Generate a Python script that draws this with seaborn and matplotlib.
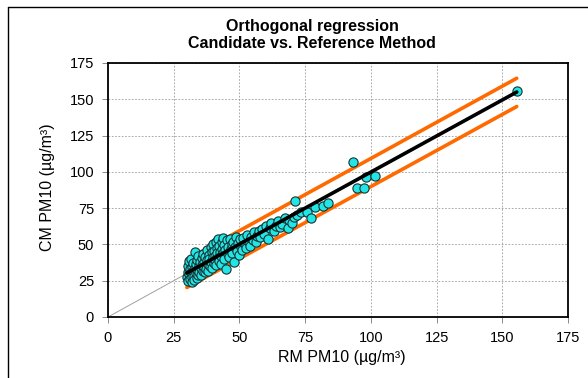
import matplotlib
matplotlib.use("Agg")
import matplotlib.pyplot as plt
import seaborn as sns
import pandas as pd
from matplotlib.lines import Line2D

# values
rm_pm10 = [30.1, 30.3, 30.4, 30.6, 30.8, 31.0, 31.1, 31.3, 31.5, 31.6, 31.8, 32.0, 32.1, 32.3,
           32.5, 32.6, 32.8, 33.0, 33.2, 33.3, 33.5, 33.7, 33.9, 34.0, 34.2, 34.4, 34.6, 34.8,
           35.0, 35.2, 35.4, 35.6, 35.8, 36.0, 36.2, 36.4, 36.6, 36.8, 37.0, 37.2, 37.4, 37.6,
           37.8, 38.0, 38.2, 38.4, 38.6, 38.8, 39.0, 39.2, 39.4, 39.6, 39.8, 40.0, 40.2, 40.4,
           40.6, 40.8, 41.0, 41.2, 41.4, 41.6, 41.8, 42.0, 42.2, 42.4, 42.6, 42.8, 43.0, 43.2,
           43.4, 43.6, 43.8, 44.0, 44.3, 44.6, 44.9, 45.2, 45.5, 45.8, 46.1, 46.4, 46.7, 47.0,
           47.3, 47.6, 48.0, 48.3, 48.6, 49.0, 49.4, 49.8, 50.2, 50.6, 51.0, 51.5, 52.0, 52.5,
           53.0, 53.5, 54.0, 54.5, 55.0, 55.6, 56.2, 56.8, 57.4, 58.0, 58.7, 59.4, 60.0, 60.8,
           61.5, 62.2, 63.0, 63.8, 64.5, 65.4, 66.3, 67.2, 68.4, 69.0, 70.1, 70.6, 71.0, 72.0,
           73.5, 75.8, 77.2, 78.8, 81.9, 83.8, 93.3, 94.6, 97.4, 98.2, 101.6, 155.5]
cm_pm10 = [27.5, 31.0, 35.2, 24.8, 29.3, 38.5, 33.0, 26.2, 30.5, 40.1, 27.8, 34.6, 24.0, 31.8,
           37.2, 28.5, 25.5, 33.5, 44.8, 30.0, 36.5, 27.2, 39.0, 32.2, 29.0, 42.0, 35.0, 31.0,
           37.8, 33.5, 28.8, 40.5, 36.0, 31.5, 43.5, 34.2, 38.2, 30.8, 41.2, 35.8, 33.0, 46.0,
           39.2, 36.8, 31.5, 43.0, 40.0, 35.2, 48.2, 38.0, 44.5, 33.8, 41.5, 50.0, 37.2, 45.8,
           42.2, 39.5, 52.0, 35.5, 47.5, 43.8, 40.8, 53.5, 38.5, 49.0, 45.0, 42.0, 36.5, 51.5,
           47.0, 44.0, 54.5, 40.2, 49.8, 46.2, 33.0, 52.8, 43.5, 48.5, 41.0, 54.0, 46.8, 50.5,
           44.0, 52.0, 38.2, 48.0, 55.0, 45.5, 51.0, 42.5, 53.5, 48.5, 46.0, 54.5, 50.0, 47.5,
           56.5, 52.0, 49.0, 55.0, 53.0, 58.5, 51.5, 56.0, 59.5, 55.0, 60.5, 57.5, 63.0, 53.5,
           61.0, 64.5, 59.0, 62.5, 66.0, 62.0, 64.0, 68.5, 61.1, 66.5, 65.0, 69.0, 80.2, 70.5,
           72.0, 72.1, 68.4, 76.0, 76.7, 78.8, 106.6, 88.7, 88.7, 96.7, 97.4, 155.5]

fit_x = [30.0, 155.5]
fit_y = [30.3, 155.0]
upper_y = [39.5, 164.5]
lower_y = [20.3, 145.0]
one_to_one = [0.0, 155.0]

pts = pd.DataFrame({"RM": rm_pm10, "CM": cm_pm10})

sns.set_style("ticks")
plt.rcParams["font.family"] = ["Liberation Sans", "DejaVu Sans"]
plt.rcParams["text.color"] = "black"
plt.rcParams["axes.labelcolor"] = "black"
plt.rcParams["xtick.labelcolor"] = "black"
plt.rcParams["ytick.labelcolor"] = "black"

fig = plt.figure(figsize=(5.88, 3.78), dpi=100)
ax = fig.add_axes([108 / 588, 1 - 317 / 378, 460 / 588, 254 / 378])

# 1:1 line underneath everything
sns.lineplot(x=one_to_one, y=one_to_one, ax=ax, color="#a0a0a0", lw=0.7, zorder=1)

sns.scatterplot(data=pts, x="RM", y="CM", ax=ax, color="#22e6e6", edgecolor="#163434",
                linewidth=0.8, s=44, zorder=3)

sns.lineplot(x=fit_x, y=upper_y, ax=ax, color="#ff6a00", lw=2.6, zorder=2)
sns.lineplot(x=fit_x, y=lower_y, ax=ax, color="#ff6a00", lw=2.6, zorder=2)
sns.lineplot(x=fit_x, y=fit_y, ax=ax, color="black", lw=2.6, zorder=4)

ax.set_xlim(0, 175)
ax.set_ylim(0, 175)
ax.set_xticks(range(0, 176, 25))
ax.set_yticks(range(0, 176, 25))
ax.grid(True, color="#9a9a9a", ls=(0, (2, 2)), lw=0.6)
ax.set_axisbelow(True)
for s in ax.spines.values():
    s.set_visible(True)
    s.set_linewidth(1.3)
    s.set_color("black")
ax.tick_params(direction="out", length=4, width=0.6, color="#777777", labelsize=10.5, pad=6)

ax.set_xlabel("RM PM10 (µg/m³)", fontsize=11.5)
ax.set_ylabel("CM PM10 (µg/m³)", fontsize=11.5)
ax.xaxis.set_label_coords(0.509, -33 / 254)
ax.yaxis.set_label_coords(-53 / 460, 0.51)
fig.text(0.531, 1 - 35 / 378, "Orthogonal regression\nCandidate vs. Reference Method",
         ha="center", va="center", fontsize=11.5, fontweight="bold", linespacing=1.15)

# partial outer frame (left and top edges, as in the reference)
fig.add_artist(Line2D([8 / 588, 1.0], [1 - 7 / 378, 1 - 7 / 378], color="black", lw=1.0,
                      transform=fig.transFigure))
fig.add_artist(Line2D([8 / 588, 8 / 588], [0.0, 1 - 7 / 378], color="black", lw=1.0,
                      transform=fig.transFigure))

fig.savefig("out.png", dpi=100)
